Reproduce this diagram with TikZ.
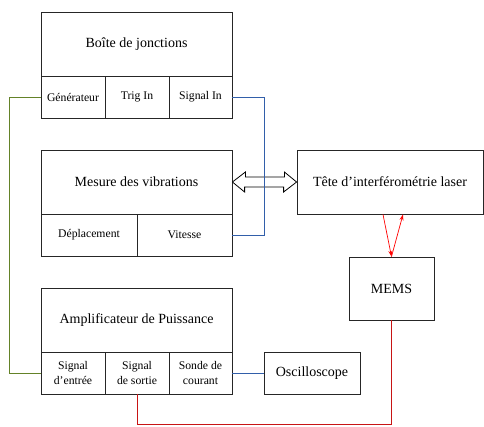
\documentclass[tikz,border=0pt]{standalone}
\usepackage{fontspec}
\setmainfont{Liberation Serif}
\usetikzlibrary{arrows.meta,calc}
\definecolor{olivel}{RGB}{100,130,40}
\definecolor{bluel}{RGB}{50,95,170}
\definecolor{darkred}{RGB}{200,20,20}
\begin{document}
\begin{tikzpicture}[x=1pt,y=-1pt,
  box/.style={draw=black!85,line width=0.8pt,rectangle,inner sep=0pt,font=\rmfamily\fontsize{14}{16}\selectfont,align=center},
  cell/.style={box,font=\rmfamily\fontsize{11.7}{15}\selectfont},
  gline/.style={draw=olivel,line width=1pt},
  bline/.style={draw=bluel,line width=1pt},
  rline/.style={draw=darkred,line width=1pt},
  rarrow/.style={draw=red,line width=0.7pt,-{Stealth[length=6pt,width=4pt]}}]
\useasboundingbox (0,0) rectangle (484,426);
% Boite de jonctions
\node[box,minimum width=191,minimum height=64] (boite) at (136.5,44) {Boîte de jonctions};
\node[cell,minimum width=64,minimum height=42] (gen) at (73,97) {Générateur};
\node[cell,minimum width=64,minimum height=42] (trig) at (137,97) {Trig In};
\node[cell,minimum width=63,minimum height=42] (sigin) at (200.5,97) {Signal In};
% Mesure des vibrations
\node[box,minimum width=191,minimum height=64] (mesure) at (136.5,182) {Mesure des vibrations};
\node[cell,minimum width=96,minimum height=42] (depl) at (89,235) {Déplacement};
\node[cell,minimum width=95,minimum height=42] (vit) at (184.5,235) {Vitesse};
% Amplificateur
\node[box,minimum width=191,minimum height=64] (ampli) at (136.5,320) {Amplificateur de Puissance};
\node[cell,minimum width=64,minimum height=42] (entree) at (73,373) {Signal\\d’entrée};
\node[cell,minimum width=64,minimum height=42] (sortie) at (137,373) {Signal\\de sortie};
\node[cell,minimum width=63,minimum height=42] (sonde) at (200.5,373) {Sonde de\\courant};
% Right side
\node[box,minimum width=186,minimum height=64] (tete) at (390,182) {Tête d’interférométrie laser};
\node[box,minimum width=85,minimum height=63] (mems) at (391.5,288.5) {MEMS};
\node[box,minimum width=96,minimum height=42] (osc) at (312,373) {Oscilloscope};
% Double arrow
\draw[line width=0.8pt,fill=white,line join=miter]
  (mesure.east) -- ++(13,-10) -- ++(0,5) -- ++(39,0) -- ++(0,-5) -- (tete.west)
  -- ++(-13,10) -- ++(0,-5) -- ++(-39,0) -- ++(0,5) -- cycle;
% Connectors
\draw[gline] (gen.west) -- ++(-31,0) |- (entree.west);
\draw[bline] (sigin.east) -- ++(32,0) |- (vit.east);
\draw[bline] (sonde.east) -- (osc.west);
\draw[rline] (sortie.south) -- ++(0,30.5) -| (mems.south);
\draw[rarrow] ([xshift=-7pt]tete.south) -- (mems.north);
\draw[rarrow] (mems.north) -- ([xshift=13pt]tete.south);
\end{tikzpicture}
\end{document}
